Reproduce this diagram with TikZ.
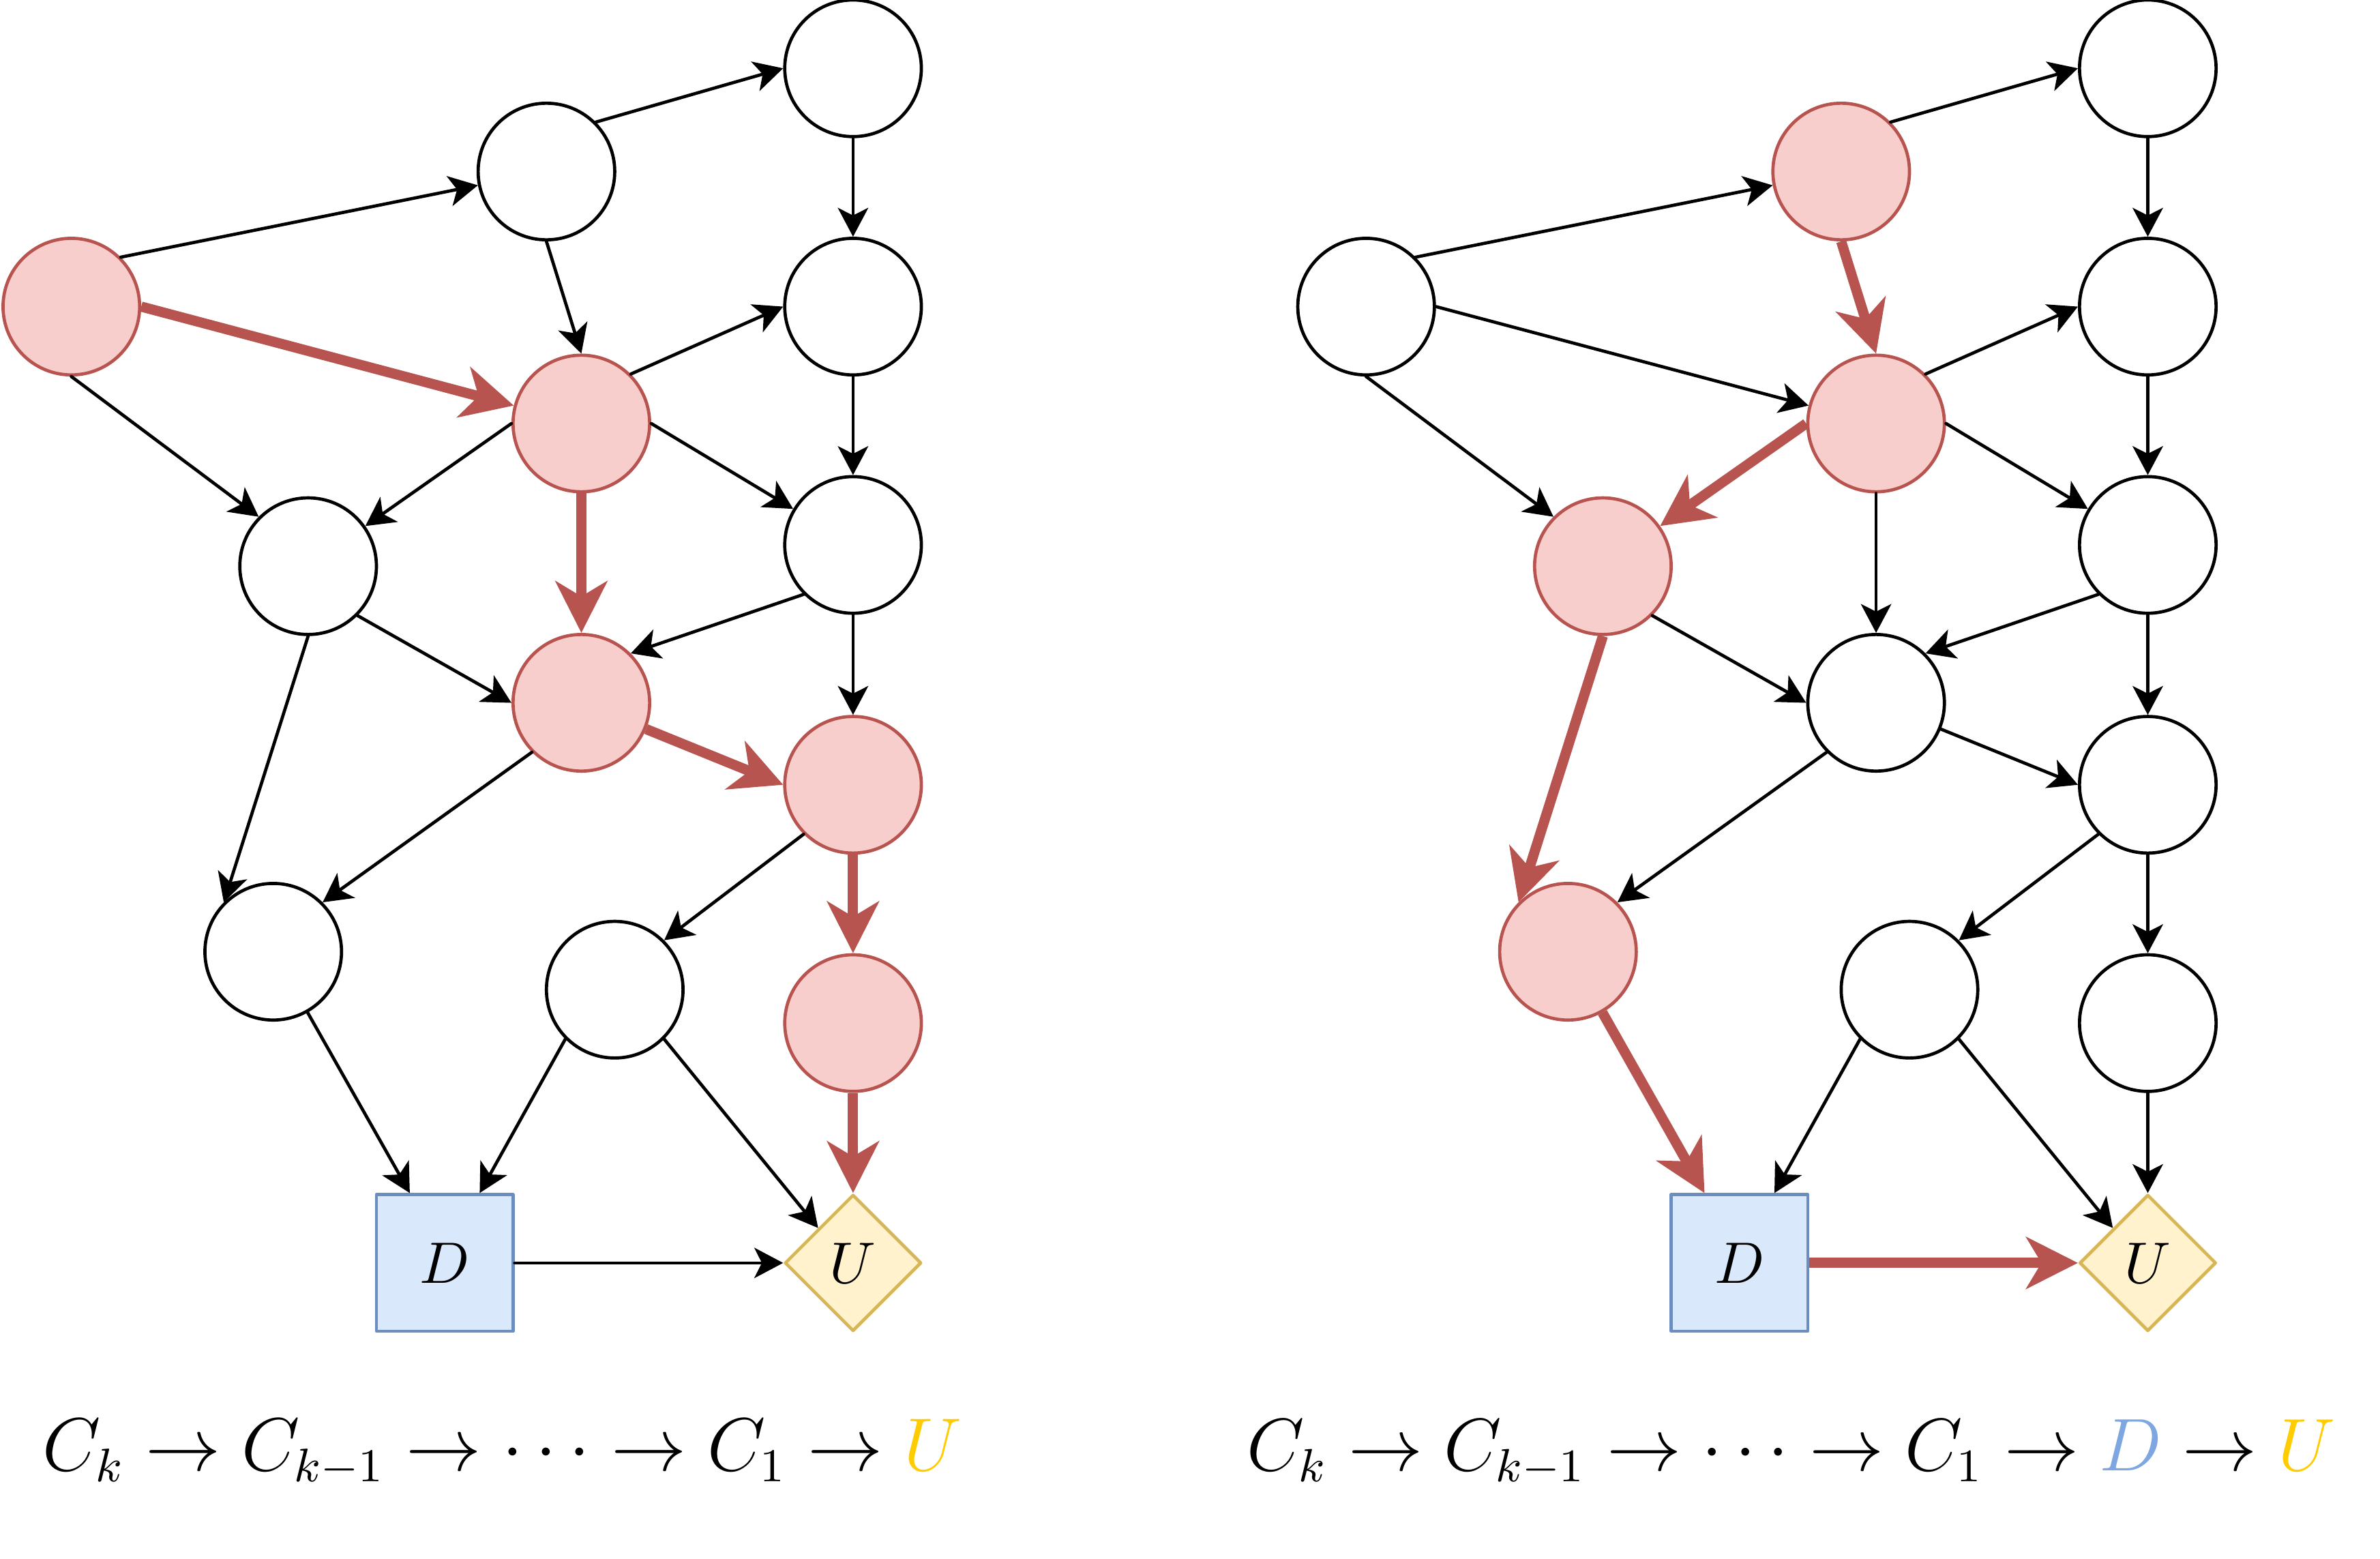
\documentclass[tikz,border=0pt]{standalone}
\usepackage{tikz}
\usetikzlibrary{calc}
\usetikzlibrary{arrows.meta}
\usetikzlibrary{shapes.geometric}

\definecolor{hitfill}{HTML}{F8CECC}
\definecolor{hitline}{HTML}{B85450}
\definecolor{decfill}{HTML}{DAE8FC}
\definecolor{decline}{HTML}{6C8EBF}
\definecolor{utilfill}{HTML}{FFF2CC}
\definecolor{utilline}{HTML}{D6B656}
\definecolor{dtext}{HTML}{7EA6E0}
\definecolor{utext}{HTML}{FFCC00}

\begin{document}
\begin{tikzpicture}[line cap = round, line join = round, >={Stealth[length=1.9mm,width=2mm,inset=0.5mm]}]
\tikzstyle{var}=[circle, draw=black, fill=white, line width=0.6pt, minimum size=0.9cm, inner sep=0pt]
\tikzstyle{varhit}=[var, draw=hitline, fill=hitfill]
\tikzstyle{decision}=[rectangle, draw=decline, fill=decfill, line width=0.6pt, minimum size=0.9cm, inner sep=0pt, font=\fontsize{11}{13}\selectfont]
\tikzstyle{utility}=[diamond, aspect=1, draw=utilline, fill=utilfill, line width=0.6pt, minimum width=0.9cm, minimum height=0.9cm, inner sep=0pt, font=\fontsize{11}{13}\selectfont]
\tikzstyle{link}=[->, line width=0.6pt]
\tikzstyle{hot}=[-{Stealth[length=3.4mm,width=3.4mm,inset=1mm]}, line width=1.9pt, line cap=butt, color=hitline]
\useasboundingbox (0,0) rectangle (15.68,10.27);

% left graph
\node[varhit] (a1) at (0.47,8.25) {};
\node[var] (a2) at (3.60,9.14) {};
\node[var] (a3) at (5.62,9.82) {};
\node[var] (a4) at (5.62,8.25) {};
\node[varhit] (a5) at (3.83,7.48) {};
\node[var] (a6) at (2.03,6.54) {};
\node[var] (a7) at (5.62,6.68) {};
\node[varhit] (a8) at (3.83,5.64) {};
\node[varhit] (a9) at (5.62,5.10) {};
\node[var] (a10) at (1.80,4.00) {};
\node[var] (a11) at (4.05,3.75) {};
\node[varhit] (a12) at (5.62,3.53) {};
\node[decision] (dl) at (2.93,1.95) {$D$};
\node[utility] (ul) at (5.62,1.95) {$U$};
\coordinate (dl1) at ($(dl.north west)!0.25!(dl.north east)$);
\coordinate (dl2) at ($(dl.north west)!0.75!(dl.north east)$);

\draw[link] (a1.45) -- (a2);
\draw[link] (a2.45) -- (a3.west);
\draw[hot] (a1.east) -- (a5);
\draw[link] (a2.south) -- (a5.north);
\draw[link] (a1.south) -- (a6.135);
\draw[link] (a3.south) -- (a4.north);
\draw[link] (a5.45) -- (a4.west);
\draw[link] (a5.west) -- (a6);
\draw[link] (a5.east) -- (a7);
\draw[link] (a4.south) -- (a7.north);
\draw[hot] (a5.south) -- (a8.north);
\draw[link] (a6.-45) -- (a8.west);
\draw[link] (a7.-135) -- (a8.45);
\draw[link] (a7.south) -- (a9.north);
\draw[hot] (a8) -- (a9.west);
\draw[link] (a6.south) -- (a10.135);
\draw[link] (a8.-135) -- (a10.45);
\draw[link] (a9.-135) -- (a11.45);
\draw[hot] (a9.south) -- (a12.north);
\draw[link] (a10) -- (dl1);
\draw[link] (a11.-135) -- (dl2);
\draw[link] (a11.-45) -- (ul.north west);
\draw[hot] (a12.south) -- (ul.north);
\draw[link] (dl.east) -- (ul.west);

\node (fl) at (3.31,0.70) {\fontsize{13.5}{16}\selectfont \scalebox{0.98}{$C_k \to C_{k-1} \to \cdots \to C_1 \to {\color{utext}U}$}};

% right graph
\node[var] (b1) at (9.00,8.25) {};
\node[varhit] (b2) at (12.13,9.14) {};
\node[var] (b3) at (14.15,9.82) {};
\node[var] (b4) at (14.15,8.25) {};
\node[varhit] (b5) at (12.36,7.48) {};
\node[varhit] (b6) at (10.56,6.54) {};
\node[var] (b7) at (14.15,6.68) {};
\node[var] (b8) at (12.36,5.64) {};
\node[var] (b9) at (14.15,5.10) {};
\node[varhit] (b10) at (10.33,4.00) {};
\node[var] (b11) at (12.58,3.75) {};
\node[var] (b12) at (14.15,3.53) {};
\node[decision] (dr) at (11.46,1.95) {$D$};
\node[utility] (ur) at (14.15,1.95) {$U$};
\coordinate (dr1) at ($(dr.north west)!0.25!(dr.north east)$);
\coordinate (dr2) at ($(dr.north west)!0.75!(dr.north east)$);

\draw[link] (b1.45) -- (b2);
\draw[link] (b2.45) -- (b3.west);
\draw[link] (b1.east) -- (b5);
\draw[hot] (b2.south) -- (b5.north);
\draw[link] (b1.south) -- (b6.135);
\draw[link] (b3.south) -- (b4.north);
\draw[link] (b5.45) -- (b4.west);
\draw[hot] (b5.west) -- (b6);
\draw[link] (b5.east) -- (b7);
\draw[link] (b5.south) -- (b8.north);
\draw[link] (b4.south) -- (b7.north);
\draw[link] (b6.-45) -- (b8.west);
\draw[link] (b7.-135) -- (b8.45);
\draw[link] (b7.south) -- (b9.north);
\draw[link] (b8) -- (b9.west);
\draw[hot] (b6.south) -- (b10.135);
\draw[link] (b8.-135) -- (b10.45);
\draw[link] (b9.-135) -- (b11.45);
\draw[link] (b9.south) -- (b12.north);
\draw[hot] (b10) -- (dr1);
\draw[link] (b11.-135) -- (dr2);
\draw[link] (b11.-45) -- (ur.north west);
\draw[link] (b12.south) -- (ur.north);
\draw[hot] (dr.east) -- (ur.west);

\node (fr) at (11.80,0.70) {\fontsize{13.5}{16}\selectfont \scalebox{0.97}{$C_k \to C_{k-1} \to \cdots \to C_1 \to {\color{dtext}D} \to {\color{utext}U}$}};
\end{tikzpicture}
\end{document}
